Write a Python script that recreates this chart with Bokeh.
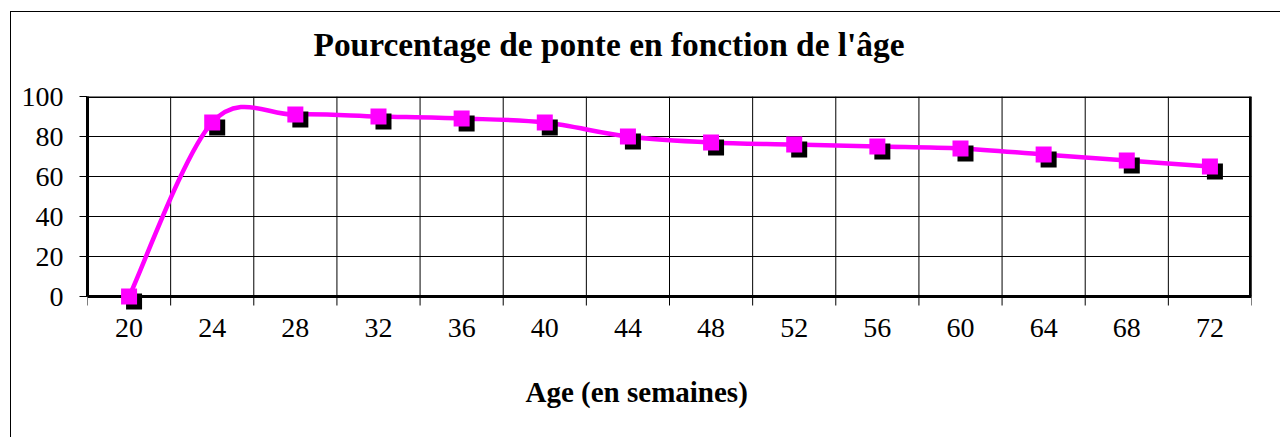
import numpy as np
from bokeh.plotting import figure
from bokeh.models import Range1d, FixedTicker, Title, ColumnDataSource, Span
from bokeh.transform import dodge
from bokeh.embed import file_html
from bokeh.resources import INLINE

# ---- data ----
ages = ["20", "24", "28", "32", "36", "40", "44", "48", "52", "56", "60", "64", "68", "72"]
ponte = [0, 87, 91, 90, 89, 87, 80, 77, 76, 75, 74, 71, 68, 65]
y_ticks = [0, 20, 40, 60, 80, 100]
title_text = "Pourcentage de ponte en fonction de l'âge"
x_title = "Age (en semaines)"

FONT = "Liberation Serif"
MAGENTA = "#FF00FF"

n = len(ages)
xs = np.arange(n) + 0.5
ys = np.array(ponte, dtype=float)

# Excel-like smoothed line: Catmull-Rom tangents converted to cubic Bezier segments
xp = np.concatenate([[xs[0]], xs, [xs[-1]]])
yp = np.concatenate([[ys[0]], ys, [ys[-1]]])
seg = ColumnDataSource(dict(
    x0=xs[:-1], y0=ys[:-1], x1=xs[1:], y1=ys[1:],
    cx0=xs[:-1] + (xp[2:n + 1] - xp[0:n - 1]) / 6,
    cy0=ys[:-1] + (yp[2:n + 1] - yp[0:n - 1]) / 6,
    cx1=xs[1:] - (xp[3:n + 2] - xp[1:n]) / 6,
    cy1=ys[1:] - (yp[3:n + 2] - yp[1:n]) / 6,
))
pts = ColumnDataSource(dict(x=xs, y=ys))

p = figure(width=1270, height=426, x_range=Range1d(0, n), y_range=Range1d(-8, 100),
           output_backend="svg", toolbar_location=None,
           min_border_left=76, min_border_right=30, min_border_top=84, min_border_bottom=126,
           background_fill_color="white", border_fill_color="white", outline_line_color=None)
p.styles = {"border-left": "1px solid black", "border-top": "1px solid black",
            "margin-left": "10px", "margin-top": "11px"}

# grid
p.xgrid.visible = False
p.ygrid.ticker = FixedTicker(ticks=y_ticks[1:-1])
p.ygrid.grid_line_color = "black"
p.ygrid.grid_line_width = 1

bounds = np.arange(n + 1)
p.segment(x0=bounds, y0=-4.5, x1=bounds, y1=100, line_color="black", line_width=1)
# plot area borders
p.segment(x0=[0], y0=[0], x1=[n], y1=[0], line_color="black", line_width=3)
p.segment(x0=[n], y0=[0], x1=[n], y1=[100], line_color="black", line_width=5)
p.add_layout(Span(location=100, dimension="width", line_color="black", line_width=3))

# axes
ya = p.yaxis[0]
ya.ticker = FixedTicker(ticks=y_ticks)
ya.bounds = (0, 100)
ya.axis_line_width = 3
ya.axis_line_color = "black"
ya.major_tick_out = 8
ya.major_tick_in = 0
ya.major_tick_line_color = "black"
ya.minor_tick_line_color = None
ya.major_label_standoff = 16
ya.major_label_text_font = FONT
ya.major_label_text_font_size = "28px"
ya.major_label_text_color = "black"

xa = p.xaxis[0]
xa.ticker = FixedTicker(ticks=list(xs))
xa.major_label_overrides = {float(x): a for x, a in zip(xs, ages)}
xa.axis_line_color = None
xa.major_tick_line_color = None
xa.minor_tick_line_color = None
xa.major_tick_out = 0
xa.major_label_standoff = 6
xa.major_label_text_font = FONT
xa.major_label_text_font_size = "28px"
xa.major_label_text_color = "black"

# series
p.bezier(x0="x0", y0="y0", x1="x1", y1="y1", cx0="cx0", cy0="cy0", cx1="cx1", cy1="cy1",
         source=seg, line_color=MAGENTA, line_width=4.5)
p.scatter(x=dodge("x", 0.06), y=dodge("y", -2.5), source=pts, marker="square",
          size=16, fill_color="black", line_color=None)
p.scatter(x="x", y="y", source=pts, marker="square", size=16,
          fill_color=MAGENTA, line_color=None)

# titles (spacer titles keep the real titles at the right distance from the plot area)
p.title.text = ""
p.title.standoff = 0

p.add_layout(Title(text=" ", text_font_size="1px", standoff=31), "above")
p.add_layout(Title(text=title_text, align="left", offset=226, standoff=0,
                   text_font=FONT, text_font_style="bold", text_font_size="33.4px",
                   text_color="black"), "above")

p.add_layout(Title(text=" ", text_font_size="1px", standoff=31), "below")
p.add_layout(Title(text=x_title, align="left", offset=438, standoff=0,
                   text_font=FONT, text_font_style="bold", text_font_size="29px",
                   text_color="black"), "below")

open("out.html", "w").write(file_html(p, INLINE))
